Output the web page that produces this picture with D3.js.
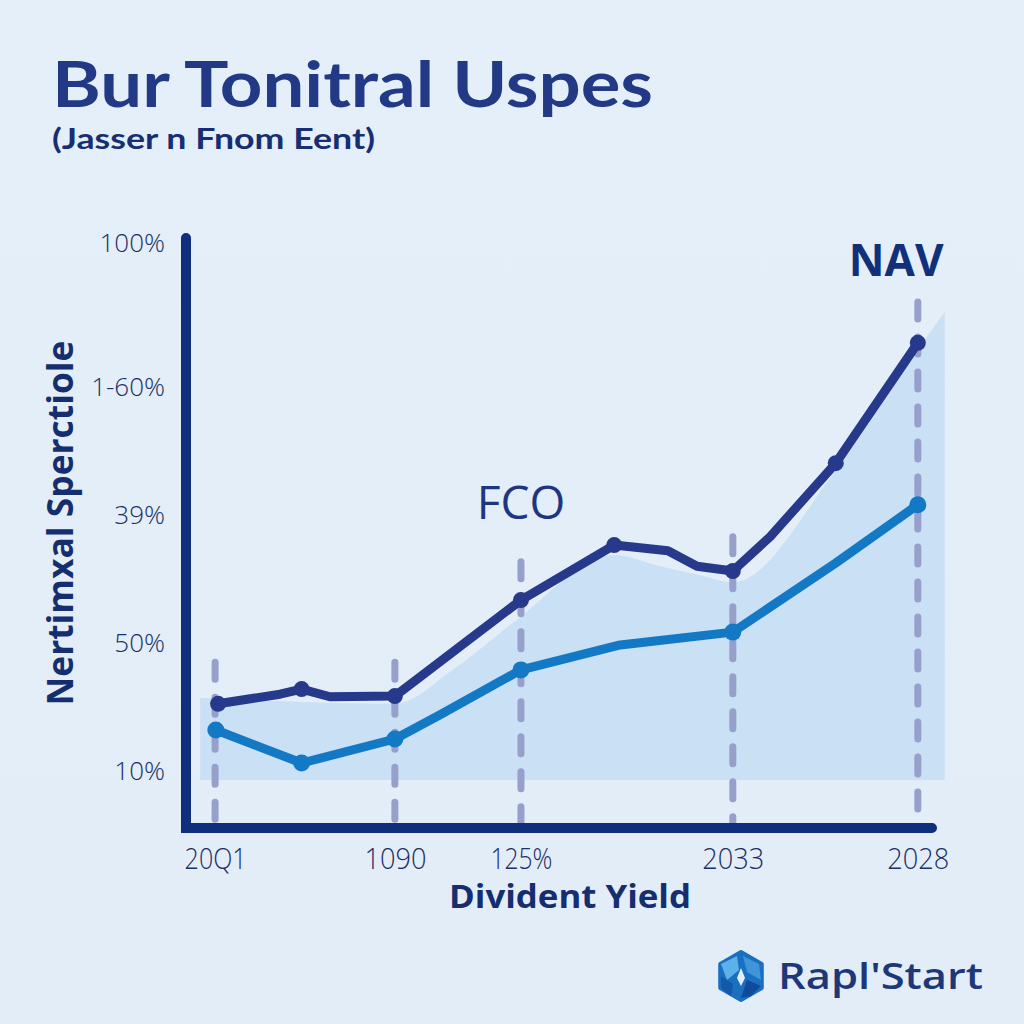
<!DOCTYPE html>
<html><head><meta charset="utf-8">
<script src="https://cdn.jsdelivr.net/npm/d3@7"></script>
<style>
html,body{margin:0;padding:0;background:#e4eef9;}
svg{display:block;}
</style></head>
<body>
<svg id="c" width="1024" height="1024"></svg>
<script>
// ---- data ----
const xTickPos = [3.9, 28, 44.9, 73.3, 98.1];
const xTickLabels = ["20Q1", "1090", "125%", "2033", "2028"];
const yTickPos = [10, 30, 50, 70, 92.5];
const yTickLabels = ["10%", "50%", "39%", "1-60%", "100%"];
const dashTop = [27, 27, 42.7, 46.6, 83.3];

const darkX = [4.3, 12.6, 15.5, 19.3, 28.0, 44.9, 57.4, 64.6, 68.5, 73.3, 78.3, 87.1, 98.1];
const darkY = [20.5, 22.0, 22.8, 21.6, 21.7, 36.7, 45.3, 44.4, 42.0, 41.25, 46.6, 58.1, 76.9];
const darkDots = [0, 2, 4, 5, 6, 9, 11, 12];

const lightX = [4.0, 15.5, 28.0, 34.0, 44.9, 58.2, 73.3, 87.1, 98.1];
const lightY = [16.4, 11.25, 15.0, 18.75, 25.8, 29.7, 31.7, 42.5, 51.6];
const lightDots = [0, 1, 2, 4, 6, 8];

const areaX = [1.9, 28, 36, 43.8, 57.4, 63.5, 68.9, 73.3, 87.1, 98.1, 101.7];
const areaTop = [21.4, 20.5, 26.0, 33.1, 43.75, 42.0, 40.6, 39.5, 57, 75.8, 81.7];
const areaBase = 8.6;

const annotations = [
  {text: "FCO", x: 44.9, y: 49.4, weight: 400},
  {text: "NAV", x: 95.2, y: 87.3, weight: 700}
];

// ---- layout ----
const svg = d3.select("#c");
const x = d3.scaleLinear().domain([0, 100]).range([186, 932]);
const y = d3.scaleLinear().domain([0, 100]).range([835, 195]);
const axisY = 828, axisTop = 238;
const navy = "#0f2f7c";
const FONT = "'Open Sans', 'Noto Sans', sans-serif";
const TFONT = "Lato, 'Open Sans', sans-serif";

// background
const defs = svg.append("defs");
const bg = defs.append("linearGradient").attr("id","bg").attr("x1",0).attr("y1",0).attr("x2",0).attr("y2",1);
bg.append("stop").attr("offset","0").attr("stop-color","#e5eff9");
bg.append("stop").attr("offset","1").attr("stop-color","#e3edf8");
svg.append("rect").attr("width",1024).attr("height",1024).attr("fill","url(#bg)");

function fitText(sel, w){ sel.attr("textLength", w).attr("lengthAdjust","spacingAndGlyphs"); }

// title
svg.append("text").attr("x",52).attr("y",107)
  .attr("font-family",TFONT).attr("font-weight",700)
  .attr("font-size",64).attr("fill","#223a86").text("Bur Tonitral Uspes").call(fitText, 601);
svg.append("text").attr("x",52).attr("y",149)
  .attr("font-family",TFONT).attr("font-weight",700)
  .attr("font-size",28).attr("fill","#172f72").text("(Jasser n Fnom Eent)").call(fitText, 323);

// area
const areaData = areaX.map((d,i)=>({x:d, t:areaTop[i]}));
svg.append("path").datum(areaData)
  .attr("d", d3.area().x(d=>x(d.x)).y0(y(areaBase)).y1(d=>y(d.t)).curve(d3.curveMonotoneX))
  .attr("fill","#c4ddf4").attr("opacity",0.85);

// dashed verticals
svg.append("g").selectAll("line").data(xTickPos).join("line")
  .attr("x1",d=>x(d)).attr("x2",d=>x(d))
  .attr("y1",(d,i)=>y(dashTop[i])).attr("y2",axisY)
  .attr("stroke","#979fcb").attr("stroke-width",7)
  .attr("stroke-linecap","round").attr("stroke-dasharray","17 18");

// lines
const lineGen = d3.line().x(d=>x(d[0])).y(d=>y(d[1])).curve(d3.curveLinear);
const darkData = darkX.map((d,i)=>[d, darkY[i]]);
const lightData = lightX.map((d,i)=>[d, lightY[i]]);
svg.append("path").datum(lightData).attr("d",lineGen).attr("fill","none")
  .attr("stroke","#1479c5").attr("stroke-width",9).attr("stroke-linejoin","round").attr("stroke-linecap","round");
svg.append("g").selectAll("circle").data(lightDots.map(i=>lightData[i])).join("circle")
  .attr("cx",d=>x(d[0])).attr("cy",d=>y(d[1])).attr("r",8.5).attr("fill","#1479c5");
svg.append("path").datum(darkData).attr("d",lineGen).attr("fill","none")
  .attr("stroke","#27398b").attr("stroke-width",9).attr("stroke-linejoin","round").attr("stroke-linecap","round");
svg.append("g").selectAll("circle").data(darkDots.map(i=>darkData[i])).join("circle")
  .attr("cx",d=>x(d[0])).attr("cy",d=>y(d[1])).attr("r",8).attr("fill","#27398b");

// axes lines
svg.append("path")
  .attr("d", `M${x(0)},${axisTop} L${x(0)},${axisY} L${x(100)},${axisY}`)
  .attr("fill","none").attr("stroke",navy).attr("stroke-width",10)
  .attr("stroke-linecap","round").attr("stroke-linejoin","miter");

// y tick labels via d3 axis
const yAxis = d3.axisLeft(y).tickValues(yTickPos).tickSize(0).tickPadding(0)
  .tickFormat((d,i)=>yTickLabels[i]);
const gy = svg.append("g").attr("transform","translate(165,0)").call(yAxis);
gy.select(".domain").remove();
gy.selectAll("text").attr("font-family",FONT).attr("font-weight",300)
  .attr("font-size",26).attr("fill","#1c2f66");

// x tick labels via d3 axis
const xAxis = d3.axisBottom(x).tickValues(xTickPos).tickSize(0).tickPadding(0)
  .tickFormat((d,i)=>xTickLabels[i]);
const gx = svg.append("g").attr("transform","translate(0,869)").call(xAxis);
gx.select(".domain").remove();
gx.selectAll("text").attr("dy",0).attr("font-family",FONT).attr("font-weight",300)
  .attr("font-size",29).attr("fill","#1c2f66").each(function(){ d3.select(this).attr("textLength",62).attr("lengthAdjust","spacingAndGlyphs"); });

// axis titles
svg.append("text").attr("transform","translate(73,523) rotate(-90)").attr("text-anchor","middle")
  .attr("font-family",FONT).attr("font-weight",700)
  .attr("font-size",35).attr("fill","#142e70").text("Nertimxal Sperctiole").call(fitText, 365);
svg.append("text").attr("x",570).attr("y",908).attr("text-anchor","middle")
  .attr("font-family",FONT).attr("font-weight",700)
  .attr("font-size",32).attr("fill","#142e70").text("Divident Yield").call(fitText, 242);

// annotations
svg.append("g").selectAll("text").data(annotations).join("text")
  .attr("x",d=>x(d.x)).attr("y",d=>y(d.y)).attr("text-anchor","middle")
  .attr("font-family",FONT).attr("font-weight",d=>d.weight)
  .attr("font-size",d=>d.weight>500?44:46).attr("fill",d=>d.weight>500?"#10307a":"#1e3682").text(d=>d.text);

// logo
const lg = svg.append("g").attr("transform","translate(741,976)");
const hex = d3.range(6).map(i=>{const a=Math.PI/3*i - Math.PI/2; return [24*Math.cos(a), 24*Math.sin(a)];});
lg.append("path").attr("d","M"+hex.join("L")+"Z").attr("fill","#1b6fc0").attr("stroke","#1b6fc0").attr("stroke-width",4).attr("stroke-linejoin","round");
lg.append("path").attr("d","M-20,-12 L-4,-20 L-2,-6 L-14,4 Z").attr("fill","#5cb2e8");
lg.append("path").attr("d","M2,-20 L18,-12 L20,4 L6,-4 Z").attr("fill","#3f95d8");
lg.append("path").attr("d","M-20,0 L-8,8 L-10,20 L-20,12 Z").attr("fill","#1458a8");
lg.append("path").attr("d","M6,4 L20,10 L10,20 L0,22 Z").attr("fill","#0f4b99");
lg.append("path").attr("d","M0,-8 L4,2 L0,10 L-4,2 Z").attr("fill","#e4eef9");
svg.append("text").attr("x",778).attr("y",989)
  .attr("font-family",FONT).attr("font-weight",600)
  .attr("font-size",36).attr("fill","#1d3778").text("Rapl'Start").call(fitText, 205);
</script>
</body></html>
